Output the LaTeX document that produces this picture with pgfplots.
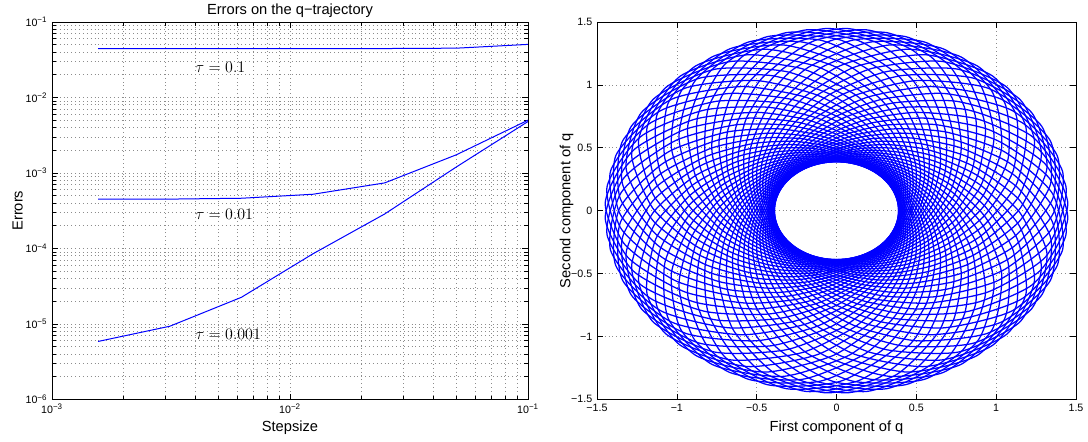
\documentclass[border=0pt]{standalone}
\usepackage{fontspec}
\setmainfont{Liberation Sans}
\usepackage{pgfplots}
\usepackage{pgfplotstable}
\pgfplotsset{compat=1.18}

\pgfplotstableread{
x t1 t2 t3
0.0015625 0.0443 4.49e-4 5.85e-6
0.003125 0.0443 4.50e-4 9.3e-6
0.00625 0.0443 4.62e-4 2.25e-5
0.0125 0.0444 5.22e-4 8.5e-5
0.025 0.0445 7.38e-4 2.86e-4
0.05 0.0450 1.74e-3 1.2e-3
0.1 0.0505 5.0e-3 4.8e-3
}\errtab

% orbit: column 0 = radius, columns 1..72 = polar angle (degrees) of loop m
\pgfplotstableread[header=false]{
0.3900 0 5 10 15 20 25 30 35 40 45 50 55 60 65 70 75 80 85 90 95 100 105 110 115 120 125 130 135 140 145 150 155 160 165 170 175 180 185 190 195 200 205 210 215 220 225 230 235 240 245 250 255 260 265 270 275 280 285 290 295 300 305 310 315 320 325 330 335 340 345 350 355
0.3971 18.25 23.25 28.25 33.25 38.25 43.25 48.25 53.25 58.25 63.25 68.25 73.25 78.25 83.25 88.25 93.25 98.25 103.25 108.25 113.25 118.25 123.25 128.25 133.25 138.25 143.25 148.25 153.25 158.25 163.25 168.25 173.25 178.25 183.25 188.25 193.25 198.25 203.25 208.25 213.25 218.25 223.25 228.25 233.25 238.25 243.25 248.25 253.25 258.25 263.25 268.25 273.25 278.25 283.25 288.25 293.25 298.25 303.25 308.25 313.25 318.25 323.25 328.25 333.25 338.25 343.25 348.25 353.25 358.25 363.25 368.25 373.25
0.4193 36.5 41.5 46.5 51.5 56.5 61.5 66.5 71.5 76.5 81.5 86.5 91.5 96.5 101.5 106.5 111.5 116.5 121.5 126.5 131.5 136.5 141.5 146.5 151.5 156.5 161.5 166.5 171.5 176.5 181.5 186.5 191.5 196.5 201.5 206.5 211.5 216.5 221.5 226.5 231.5 236.5 241.5 246.5 251.5 256.5 261.5 266.5 271.5 276.5 281.5 286.5 291.5 296.5 301.5 306.5 311.5 316.5 321.5 326.5 331.5 336.5 341.5 346.5 351.5 356.5 361.5 366.5 371.5 376.5 381.5 386.5 391.5
0.4592 54.75 59.75 64.75 69.75 74.75 79.75 84.75 89.75 94.75 99.75 104.75 109.75 114.75 119.75 124.75 129.75 134.75 139.75 144.75 149.75 154.75 159.75 164.75 169.75 174.75 179.75 184.75 189.75 194.75 199.75 204.75 209.75 214.75 219.75 224.75 229.75 234.75 239.75 244.75 249.75 254.75 259.75 264.75 269.75 274.75 279.75 284.75 289.75 294.75 299.75 304.75 309.75 314.75 319.75 324.75 329.75 334.75 339.75 344.75 349.75 354.75 359.75 364.75 369.75 374.75 379.75 384.75 389.75 394.75 399.75 404.75 409.75
0.5218 73 78 83 88 93 98 103 108 113 118 123 128 133 138 143 148 153 158 163 168 173 178 183 188 193 198 203 208 213 218 223 228 233 238 243 248 253 258 263 268 273 278 283 288 293 298 303 308 313 318 323 328 333 338 343 348 353 358 363 368 373 378 383 388 393 398 403 408 413 418 423 428
0.6147 91.25 96.25 101.25 106.25 111.25 116.25 121.25 126.25 131.25 136.25 141.25 146.25 151.25 156.25 161.25 166.25 171.25 176.25 181.25 186.25 191.25 196.25 201.25 206.25 211.25 216.25 221.25 226.25 231.25 236.25 241.25 246.25 251.25 256.25 261.25 266.25 271.25 276.25 281.25 286.25 291.25 296.25 301.25 306.25 311.25 316.25 321.25 326.25 331.25 336.25 341.25 346.25 351.25 356.25 361.25 366.25 371.25 376.25 381.25 386.25 391.25 396.25 401.25 406.25 411.25 416.25 421.25 426.25 431.25 436.25 441.25 446.25
0.7478 109.5 114.5 119.5 124.5 129.5 134.5 139.5 144.5 149.5 154.5 159.5 164.5 169.5 174.5 179.5 184.5 189.5 194.5 199.5 204.5 209.5 214.5 219.5 224.5 229.5 234.5 239.5 244.5 249.5 254.5 259.5 264.5 269.5 274.5 279.5 284.5 289.5 294.5 299.5 304.5 309.5 314.5 319.5 324.5 329.5 334.5 339.5 344.5 349.5 354.5 359.5 364.5 369.5 374.5 379.5 384.5 389.5 394.5 399.5 404.5 409.5 414.5 419.5 424.5 429.5 434.5 439.5 444.5 449.5 454.5 459.5 464.5
0.9293 127.75 132.75 137.75 142.75 147.75 152.75 157.75 162.75 167.75 172.75 177.75 182.75 187.75 192.75 197.75 202.75 207.75 212.75 217.75 222.75 227.75 232.75 237.75 242.75 247.75 252.75 257.75 262.75 267.75 272.75 277.75 282.75 287.75 292.75 297.75 302.75 307.75 312.75 317.75 322.75 327.75 332.75 337.75 342.75 347.75 352.75 357.75 362.75 367.75 372.75 377.75 382.75 387.75 392.75 397.75 402.75 407.75 412.75 417.75 422.75 427.75 432.75 437.75 442.75 447.75 452.75 457.75 462.75 467.75 472.75 477.75 482.75
1.1511 146 151 156 161 166 171 176 181 186 191 196 201 206 211 216 221 226 231 236 241 246 251 256 261 266 271 276 281 286 291 296 301 306 311 316 321 326 331 336 341 346 351 356 361 366 371 376 381 386 391 396 401 406 411 416 421 426 431 436 441 446 451 456 461 466 471 476 481 486 491 496 501
1.3594 164.25 169.25 174.25 179.25 184.25 189.25 194.25 199.25 204.25 209.25 214.25 219.25 224.25 229.25 234.25 239.25 244.25 249.25 254.25 259.25 264.25 269.25 274.25 279.25 284.25 289.25 294.25 299.25 304.25 309.25 314.25 319.25 324.25 329.25 334.25 339.25 344.25 349.25 354.25 359.25 364.25 369.25 374.25 379.25 384.25 389.25 394.25 399.25 404.25 409.25 414.25 419.25 424.25 429.25 434.25 439.25 444.25 449.25 454.25 459.25 464.25 469.25 474.25 479.25 484.25 489.25 494.25 499.25 504.25 509.25 514.25 519.25
1.4498 182.5 187.5 192.5 197.5 202.5 207.5 212.5 217.5 222.5 227.5 232.5 237.5 242.5 247.5 252.5 257.5 262.5 267.5 272.5 277.5 282.5 287.5 292.5 297.5 302.5 307.5 312.5 317.5 322.5 327.5 332.5 337.5 342.5 347.5 352.5 357.5 362.5 367.5 372.5 377.5 382.5 387.5 392.5 397.5 402.5 407.5 412.5 417.5 422.5 427.5 432.5 437.5 442.5 447.5 452.5 457.5 462.5 467.5 472.5 477.5 482.5 487.5 492.5 497.5 502.5 507.5 512.5 517.5 522.5 527.5 532.5 537.5
1.3594 200.75 205.75 210.75 215.75 220.75 225.75 230.75 235.75 240.75 245.75 250.75 255.75 260.75 265.75 270.75 275.75 280.75 285.75 290.75 295.75 300.75 305.75 310.75 315.75 320.75 325.75 330.75 335.75 340.75 345.75 350.75 355.75 360.75 365.75 370.75 375.75 380.75 385.75 390.75 395.75 400.75 405.75 410.75 415.75 420.75 425.75 430.75 435.75 440.75 445.75 450.75 455.75 460.75 465.75 470.75 475.75 480.75 485.75 490.75 495.75 500.75 505.75 510.75 515.75 520.75 525.75 530.75 535.75 540.75 545.75 550.75 555.75
1.1511 219 224 229 234 239 244 249 254 259 264 269 274 279 284 289 294 299 304 309 314 319 324 329 334 339 344 349 354 359 364 369 374 379 384 389 394 399 404 409 414 419 424 429 434 439 444 449 454 459 464 469 474 479 484 489 494 499 504 509 514 519 524 529 534 539 544 549 554 559 564 569 574
0.9293 237.25 242.25 247.25 252.25 257.25 262.25 267.25 272.25 277.25 282.25 287.25 292.25 297.25 302.25 307.25 312.25 317.25 322.25 327.25 332.25 337.25 342.25 347.25 352.25 357.25 362.25 367.25 372.25 377.25 382.25 387.25 392.25 397.25 402.25 407.25 412.25 417.25 422.25 427.25 432.25 437.25 442.25 447.25 452.25 457.25 462.25 467.25 472.25 477.25 482.25 487.25 492.25 497.25 502.25 507.25 512.25 517.25 522.25 527.25 532.25 537.25 542.25 547.25 552.25 557.25 562.25 567.25 572.25 577.25 582.25 587.25 592.25
0.7478 255.5 260.5 265.5 270.5 275.5 280.5 285.5 290.5 295.5 300.5 305.5 310.5 315.5 320.5 325.5 330.5 335.5 340.5 345.5 350.5 355.5 360.5 365.5 370.5 375.5 380.5 385.5 390.5 395.5 400.5 405.5 410.5 415.5 420.5 425.5 430.5 435.5 440.5 445.5 450.5 455.5 460.5 465.5 470.5 475.5 480.5 485.5 490.5 495.5 500.5 505.5 510.5 515.5 520.5 525.5 530.5 535.5 540.5 545.5 550.5 555.5 560.5 565.5 570.5 575.5 580.5 585.5 590.5 595.5 600.5 605.5 610.5
0.6147 273.75 278.75 283.75 288.75 293.75 298.75 303.75 308.75 313.75 318.75 323.75 328.75 333.75 338.75 343.75 348.75 353.75 358.75 363.75 368.75 373.75 378.75 383.75 388.75 393.75 398.75 403.75 408.75 413.75 418.75 423.75 428.75 433.75 438.75 443.75 448.75 453.75 458.75 463.75 468.75 473.75 478.75 483.75 488.75 493.75 498.75 503.75 508.75 513.75 518.75 523.75 528.75 533.75 538.75 543.75 548.75 553.75 558.75 563.75 568.75 573.75 578.75 583.75 588.75 593.75 598.75 603.75 608.75 613.75 618.75 623.75 628.75
0.5218 292 297 302 307 312 317 322 327 332 337 342 347 352 357 362 367 372 377 382 387 392 397 402 407 412 417 422 427 432 437 442 447 452 457 462 467 472 477 482 487 492 497 502 507 512 517 522 527 532 537 542 547 552 557 562 567 572 577 582 587 592 597 602 607 612 617 622 627 632 637 642 647
0.4592 310.25 315.25 320.25 325.25 330.25 335.25 340.25 345.25 350.25 355.25 360.25 365.25 370.25 375.25 380.25 385.25 390.25 395.25 400.25 405.25 410.25 415.25 420.25 425.25 430.25 435.25 440.25 445.25 450.25 455.25 460.25 465.25 470.25 475.25 480.25 485.25 490.25 495.25 500.25 505.25 510.25 515.25 520.25 525.25 530.25 535.25 540.25 545.25 550.25 555.25 560.25 565.25 570.25 575.25 580.25 585.25 590.25 595.25 600.25 605.25 610.25 615.25 620.25 625.25 630.25 635.25 640.25 645.25 650.25 655.25 660.25 665.25
0.4193 328.5 333.5 338.5 343.5 348.5 353.5 358.5 363.5 368.5 373.5 378.5 383.5 388.5 393.5 398.5 403.5 408.5 413.5 418.5 423.5 428.5 433.5 438.5 443.5 448.5 453.5 458.5 463.5 468.5 473.5 478.5 483.5 488.5 493.5 498.5 503.5 508.5 513.5 518.5 523.5 528.5 533.5 538.5 543.5 548.5 553.5 558.5 563.5 568.5 573.5 578.5 583.5 588.5 593.5 598.5 603.5 608.5 613.5 618.5 623.5 628.5 633.5 638.5 643.5 648.5 653.5 658.5 663.5 668.5 673.5 678.5 683.5
0.3971 346.75 351.75 356.75 361.75 366.75 371.75 376.75 381.75 386.75 391.75 396.75 401.75 406.75 411.75 416.75 421.75 426.75 431.75 436.75 441.75 446.75 451.75 456.75 461.75 466.75 471.75 476.75 481.75 486.75 491.75 496.75 501.75 506.75 511.75 516.75 521.75 526.75 531.75 536.75 541.75 546.75 551.75 556.75 561.75 566.75 571.75 576.75 581.75 586.75 591.75 596.75 601.75 606.75 611.75 616.75 621.75 626.75 631.75 636.75 641.75 646.75 651.75 656.75 661.75 666.75 671.75 676.75 681.75 686.75 691.75 696.75 701.75
0.3900 365 370 375 380 385 390 395 400 405 410 415 420 425 430 435 440 445 450 455 460 465 470 475 480 485 490 495 500 505 510 515 520 525 530 535 540 545 550 555 560 565 570 575 580 585 590 595 600 605 610 615 620 625 630 635 640 645 650 655 660 665 670 675 680 685 690 695 700 705 710 715 720
}\orbit

\pgfplotsset{
  matlab/.style={
    scale only axis,
    anchor=south west,
    tick align=inside,
    axis line style={black, line width=0.6pt},
    tick style={black, line width=0.5pt},
    major grid style={black!45, line width=0.5pt, dash pattern=on 0.5pt off 2.4pt},
    minor grid style={black!45, line width=0.5pt, dash pattern=on 0.5pt off 2.4pt},
    tick label style={font=\fontsize{8}{9}\selectfont},
    every axis title/.style={at={(axis description cs:0.5,1)}, anchor=base, yshift=6pt, font=\fontsize{11}{13}\selectfont},
    every axis x label/.style={at={(axis description cs:0.5,0)}, anchor=base, yshift=-24pt, font=\fontsize{11}{13}\selectfont},
  },
}

\begin{document}
\begin{tikzpicture}
\useasboundingbox (0,0) rectangle (816pt,331.5pt);

\begin{axis}[
  matlab,
  at={(39pt,32pt)},
  width=357pt, height=283pt,
  xmode=log, ymode=log,
  xmin=1e-3, xmax=1e-1, ymin=1e-6, ymax=1e-1,
  xtick={1e-3,1e-2,1e-1},
  xticklabels={10\textsuperscript{−3},10\textsuperscript{−2},10\textsuperscript{−1}},
  ytick={1e-6,1e-5,1e-4,1e-3,1e-2,1e-1},
  yticklabels={10\textsuperscript{−6},10\textsuperscript{−5},10\textsuperscript{−4},10\textsuperscript{−3},10\textsuperscript{−2},10\textsuperscript{−1}},
  minor xtick={2e-3,3e-3,4e-3,5e-3,6e-3,7e-3,8e-3,9e-3,2e-2,3e-2,4e-2,5e-2,6e-2,7e-2,8e-2,9e-2},
  minor ytick={2e-6,3e-6,4e-6,5e-6,6e-6,7e-6,8e-6,9e-6,2e-5,3e-5,4e-5,5e-5,6e-5,7e-5,8e-5,9e-5,2e-4,3e-4,4e-4,5e-4,6e-4,7e-4,8e-4,9e-4,2e-3,3e-3,4e-3,5e-3,6e-3,7e-3,8e-3,9e-3,2e-2,3e-2,4e-2,5e-2,6e-2,7e-2,8e-2,9e-2},
  grid=both,
  title={Errors on the q−trajectory},
  xlabel={Stepsize},
  ylabel={Errors},
  every axis y label/.style={at={(axis description cs:-0.0616,0.5)}, anchor=base, rotate=90, font=\fontsize{11}{13}\selectfont},
]
\addplot[blue, line width=0.75pt] table[x=x, y=t1] {\errtab};
\addplot[blue, line width=0.75pt] table[x=x, y=t2] {\errtab};
\addplot[blue, line width=0.75pt] table[x=x, y=t3] {\errtab};
\node[anchor=west, inner sep=0pt, font=\fontsize{12}{14}\selectfont] at (axis cs:4e-3,0.0252) {$\tau = 0.1$};
\node[anchor=west, inner sep=0pt, font=\fontsize{12}{14}\selectfont] at (axis cs:4e-3,2.83e-4) {$\tau = 0.01$};
\node[anchor=west, inner sep=0pt, font=\fontsize{12}{14}\selectfont] at (axis cs:4e-3,7.31e-6) {$\tau = 0.001$};
\end{axis}

\begin{axis}[
  matlab,
  at={(447.75pt,32pt)},
  width=359.25pt, height=283pt,
  xmin=-1.5, xmax=1.5, ymin=-1.5, ymax=1.5,
  xtick={-1.5,-1,-0.5,0,0.5,1,1.5},
  ytick={-1.5,-1,-0.5,0,0.5,1,1.5},
  xticklabels={−1.5,−1,−0.5,0,0.5,1,1.5},
  yticklabels={−1.5,−1,−0.5,0,0.5,1,1.5},
  grid=major,
  xlabel={First component of q},
  ylabel={Second component of q},
  every axis y label/.style={at={(axis description cs:-0.0557,0.5)}, anchor=base, rotate=90, font=\fontsize{11}{13}\selectfont},
]
\pgfplotsinvokeforeach{1,...,72}{
  \addplot[blue, line width=0.95pt, smooth, tension=0.4, data cs=polar, line join=round] table[x index=#1, y index=0] {\orbit};
}
\end{axis}
\end{tikzpicture}
\end{document}
